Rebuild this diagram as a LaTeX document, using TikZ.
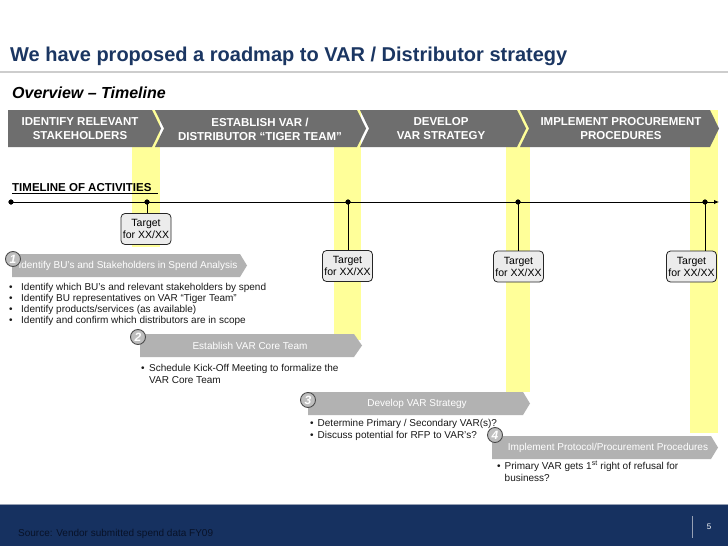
\documentclass[tikz,border=0pt]{standalone}
\usepackage{fontspec}
\setmainfont{Liberation Sans}
\usetikzlibrary{arrows.meta}
\definecolor{titleblue}{RGB}{27,54,98}
\definecolor{chevgray}{RGB}{110,110,110}
\definecolor{bandyellow}{RGB}{255,255,153}
\definecolor{actgray}{RGB}{178,178,178}
\definecolor{numfill}{RGB}{190,190,190}
\definecolor{numedge}{RGB}{75,75,75}
\definecolor{targetfill}{RGB}{236,236,236}
\definecolor{footerblue}{RGB}{22,49,96}
\definecolor{footerline}{RGB}{150,160,180}
\definecolor{sourcetext}{RGB}{8,18,40}
\definecolor{rulegray}{RGB}{205,205,205}
\begin{document}
\begin{tikzpicture}[x=1pt,y=-1pt,
  chev/.style={fill=chevgray},
  chevtext/.style={text=white, font=\fontsize{11.5}{14}\selectfont\bfseries, align=center, inner sep=0},
  band/.style={fill=bandyellow},
  act/.style={fill=actgray},
  acttext/.style={text=white, font=\fontsize{10}{12}\selectfont, inner sep=0},
  num/.style={circle, draw=numedge, fill=numfill, line width=0.9pt, minimum size=15pt, inner sep=0, text=white, font=\fontsize{12}{12}\selectfont\bfseries\itshape},
  target/.style={draw=black!85, fill=targetfill, rounded corners=4pt, line width=0.8pt, minimum width=50pt, minimum height=31pt, inner sep=1pt, align=center, font=\fontsize{10.5}{12}\selectfont},
  dot/.style={circle, fill=black, minimum size=5pt, inner sep=0},
  conn/.style={line width=0.9pt, black},
  bullets/.style={anchor=base west, inner sep=0, font=\fontsize{10}{12}\selectfont, text=black!90},
]
\useasboundingbox (0,0) rectangle (728,546);
\fill[white] (0,0) rectangle (728,546);

% title
\node[anchor=base west, inner sep=0, text=titleblue, font=\fontsize{20}{24}\selectfont\bfseries] (title) at (10,61) {We have proposed a roadmap to VAR / Distributor strategy};
\draw[rulegray, line width=2pt] (0,72) -- (728,72);
\node[anchor=base west, inner sep=0, font=\fontsize{16}{19}\selectfont\bfseries\itshape] (overview) at (12,98) {Overview – Timeline};

% yellow bands
\fill[band] (132,110) rectangle (160,247);
\fill[band] (334,110) rectangle (361,340);
\fill[band] (506,110) rectangle (530,392);
\fill[band] (690,110) rectangle (718,433);

% chevrons
\fill[chev] (8,110) -- (152,110) -- (161,128.5) -- (152,147) -- (8,147) -- cycle;
\fill[chev] (155,110) -- (357,110) -- (366,128.5) -- (357,147) -- (155,147) -- (164,128.5) -- cycle;
\fill[chev] (360,110) -- (517,110) -- (526,128.5) -- (517,147) -- (360,147) -- (369,128.5) -- cycle;
\fill[chev] (520,110) -- (710,110) -- (719,128.5) -- (710,147) -- (520,147) -- (529,128.5) -- cycle;
\node[chevtext] (ph1) at (80,129) {IDENTIFY RELEVANT\\STAKEHOLDERS};
\node[chevtext] (ph2) at (260,129) {ESTABLISH VAR /\\DISTRIBUTOR “TIGER TEAM”};
\node[chevtext] (ph3) at (441,129) {DEVELOP\\VAR STRATEGY};
\node[chevtext] (ph4) at (621,129) {IMPLEMENT PROCUREMENT\\PROCEDURES};

% timeline
\node[anchor=base west, inner sep=0, font=\fontsize{11.5}{14}\selectfont\bfseries] (tla) at (12,191) {TIMELINE OF ACTIVITIES};
\draw[line width=0.9pt] (tla.base west) ++(0,2.5) -- ++(146,0);
\node[dot] (d0) at (11,202) {};
\node[dot] (d1) at (147,202) {};
\node[dot] (d2) at (348,202) {};
\node[dot] (d3) at (518,202) {};
\node[dot] (d4) at (705,202) {};
\coordinate (tend) at (719,202);
\draw[conn, -{Latex[length=5pt,width=4.5pt]}] (d0.center) -- (tend);

% targets
\node[target] (t1) at (146,229) {Target\\for XX/XX};
\node[target] (t2) at (347.5,266) {Target\\for XX/XX};
\node[target] (t3) at (518.5,266.5) {Target\\for XX/XX};
\node[target] (t4) at (691.5,266.5) {Target\\for XX/XX};
\draw[conn] (d1.center) -- (d1.center |- t1.north);
\draw[conn] (d2.center) -- (d2.center |- t2.north);
\draw[conn] (d3.center) -- (d3.center |- t3.north);
\draw[conn] (d4.center) -- (d4.center |- t4.north);
\node[dot] at (d0) {};
\node[dot] at (d1) {};
\node[dot] at (d2) {};
\node[dot] at (d3) {};
\node[dot] at (d4) {};

% activity arrows
\fill[act] (12,254) -- (240,254) -- (247,265.5) -- (240,277) -- (12,277) -- cycle;
\fill[act] (140,334) -- (354,334) -- (362,345.5) -- (354,357) -- (140,357) -- cycle;
\fill[act] (308,392) -- (523,392) -- (530,403.5) -- (523,415) -- (308,415) -- cycle;
\fill[act] (492,436) -- (711,436) -- (718,447.5) -- (711,459) -- (492,459) -- cycle;
\node[acttext] (a1) at (128,266) {Identify BU’s and Stakeholders in Spend Analysis};
\node[acttext] (a2) at (250,346) {Establish VAR Core Team};
\node[acttext] (a3) at (417,404) {Develop VAR Strategy};
\node[acttext] (a4) at (608,448) {Implement Protocol/Procurement Procedures};
\node[num] (n1) at (13,259) {1};
\node[num] (n2) at (138,337) {2};
\node[num] (n3) at (308,400) {3};
\node[num] (n4) at (495,435) {4};

% bullets
\node[bullets] (b1) at (9,290) {\def\arraystretch{0.94}\begin{tabular}[t]{@{}l@{}l@{}}
\makebox[12pt][l]{•} & Identify which BU’s and relevant stakeholders by spend\\
\makebox[12pt][l]{•} & Identify BU representatives on VAR “Tiger Team”\\
\makebox[12pt][l]{•} & Identify products/services (as available)\\
\makebox[12pt][l]{•} & Identify and confirm which distributors are in scope
\end{tabular}};
\node[bullets] (b2) at (141,371) {\begin{tabular}[t]{@{}l@{}l@{}}
\makebox[8pt][l]{•} & Schedule Kick-Off Meeting to formalize the\\
 & VAR Core Team
\end{tabular}};
\node[bullets] (b3) at (310,426) {\begin{tabular}[t]{@{}l@{}l@{}}
\makebox[7.5pt][l]{•} & Determine Primary / Secondary VAR(s)?\\
\makebox[7.5pt][l]{•} & Discuss potential for RFP to VAR’s?
\end{tabular}};
\node[bullets] (b4) at (497,469) {\begin{tabular}[t]{@{}l@{}l@{}}
\makebox[7.5pt][l]{•} & Primary VAR gets 1\textsuperscript{st} right of refusal for\\
 & business?
\end{tabular}};

% footer
\fill[footerblue] (0,504) rectangle (728,546);
\draw[footerline, line width=0.8pt] (0,504) -- (728,504);
\node[anchor=base west, inner sep=0, text=sourcetext, font=\fontsize{10}{12}\selectfont] (src) at (18,536) {Source: Vendor submitted spend data FY09};
\draw[footerline, line width=1pt] (692,516) -- (692,538);
\node[inner sep=0, text=white, font=\fontsize{8}{9}\selectfont] (pg) at (709,527) {5};
\end{tikzpicture}
\end{document}
